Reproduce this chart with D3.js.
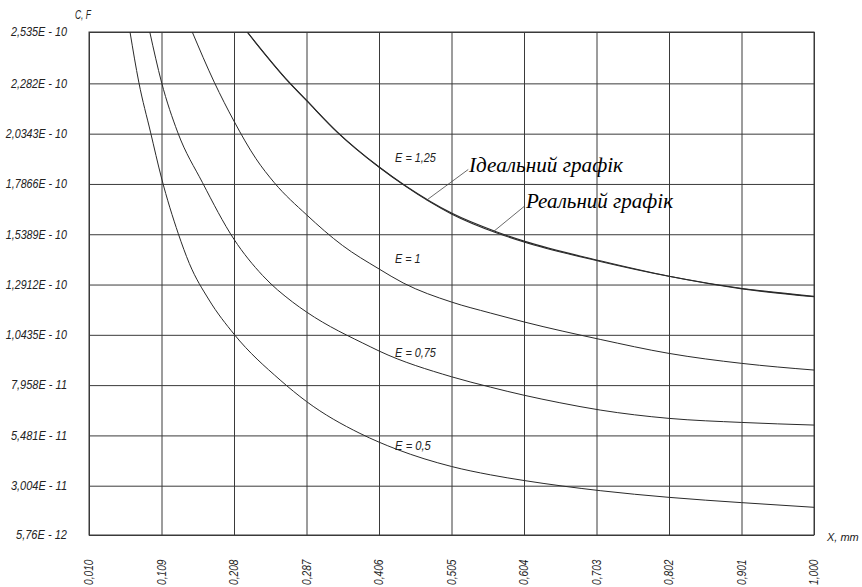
<!DOCTYPE html>
<html><head><meta charset="utf-8">
<script src="https://cdn.jsdelivr.net/npm/d3@7"></script>
<style>
body{margin:0;background:#fff;}
.cad{font-family:"Liberation Sans","Arimo",sans-serif;font-style:italic;fill:#222;}
.ann{font-family:"Liberation Serif","Times New Roman","DejaVu Serif",serif;font-style:italic;fill:#000;}
</style></head><body>
<svg id="chart" width="862" height="587"></svg>
<script>
// ---- data (capacitance in pF = 1e-12 F, X in mm) ----
const xTickValues = [0.010,0.109,0.208,0.307,0.406,0.505,0.604,0.703,0.802,0.901,1.000];
const xTickLabels = ["0,010","0,109","0,208","0,287","0,406","0,505","0,604","0,703","0,802","0,901","1,000"];
const yTickValues = [5.76,30.04,54.81,79.58,104.35,129.12,153.89,178.66,203.43,228.20,253.5];
const yTickLabels = ["5,76E - 12","3,004E - 11","5,481E - 11","7,958E - 11","1,0435E - 10","1,2912E - 10","1,5389E - 10","1,7866E - 10","2,0343E - 10","2,282E - 10","2,535E - 10"];

const xE05  = [0.066,0.078,0.094,0.109,0.132,0.147,0.174,0.208,0.271,0.307,0.380,0.406,0.430,0.505,0.558,0.604,0.708,0.802,0.901,1.000];
const cE05  = [253.5,228.8,204.2,181.6,154.1,139.5,121.5,104.7,82.1,71.5,55.8,51.5,48.0,39.5,35.4,32.6,27.6,24.3,21.7,19.4];

const xE075 = [0.093,0.109,0.131,0.165,0.208,0.247,0.288,0.307,0.394,0.406,0.505,0.558,0.604,0.653,0.708,0.802,0.901,1.000];
const cE075 = [253.5,228.8,204.2,179.3,151.4,133.6,120.5,115.6,98.5,96.4,83.7,78.6,74.6,70.9,67.3,63.2,61.2,59.9];

const xE1   = [0.151,0.181,0.208,0.238,0.263,0.307,0.356,0.406,0.439,0.505,0.558,0.604,0.708,0.802,0.901,1.000];
const cE1   = [253.5,228.8,209.6,191.1,179.3,163.5,148.4,136.8,129.9,120.5,115.1,110.7,102.1,95.2,90.3,87.0];

const xE125 = [0.226,0.283,0.307,0.349,0.406,0.442,0.505,0.567,0.604,0.708,0.802,0.902,1.000];
const cE125ideal = [253.5,228.8,219.8,204.2,187.0,177.8,164.3,155.0,150.5,140.8,133.2,127.0,123.1];
const cE125real  = [253.5,228.8,219.8,204.2,187.0,177.6,163.9,154.5,150.1,140.5,133.2,127.2,123.3];

const curveNames  = ["E = 0,5","E = 0,75","E = 1","E = 1,25"];

// ---- layout ----
const margin = {left:89, top:32, right:48, bottom:52};
const W = 862, H = 587;
const width = W - margin.left - margin.right;   // 725
const height = H - margin.top - margin.bottom;  // 503
const CH = 5.1; // narrow CAD-like character advance

const svg = d3.select("#chart");
const g = svg.append("g").attr("transform",`translate(${margin.left},${margin.top})`);

const x = d3.scaleLinear().domain([0.010,1.000]).range([0,width]);
const y = d3.scaleLinear().domain([5.76,253.5]).range([height,0]);

// grid via axes
const xAxis = d3.axisBottom(x).tickValues(xTickValues).tickSize(-height)
  .tickFormat((d,i)=>xTickLabels[i]);
const gx = g.append("g").attr("transform",`translate(0,${height})`).call(xAxis);
gx.select(".domain").remove();
gx.selectAll(".tick line").attr("stroke","#3a3a3a").attr("stroke-width",1);
gx.selectAll(".tick text").attr("class","cad").attr("font-size",12)
  .attr("text-anchor","start").attr("transform","rotate(-90)")
  .attr("x",-50).attr("y",0).attr("dy","0.32em")
  .attr("textLength",function(){return this.textContent.length*CH;})
  .attr("lengthAdjust","spacingAndGlyphs");

const yAxis = d3.axisLeft(y).tickValues(yTickValues).tickSize(-width).tickPadding(22)
  .tickFormat((d,i)=>yTickLabels[i]);
const gy = g.append("g").call(yAxis);
gy.select(".domain").remove();
gy.selectAll(".tick line").attr("stroke","#3a3a3a").attr("stroke-width",1);
gy.selectAll(".tick text").attr("class","cad").attr("font-size",12)
  .attr("textLength",function(){return this.textContent.length*CH;})
  .attr("lengthAdjust","spacingAndGlyphs");

g.append("rect").attr("x",0).attr("y",0).attr("width",width).attr("height",height)
  .attr("fill","none").attr("stroke","#3a3a3a").attr("stroke-width",1);

// clip
svg.append("defs").append("clipPath").attr("id","clip")
  .append("rect").attr("width",width).attr("height",height);

const line = d3.line().x(d=>x(d[0])).y(d=>y(d[1])).curve(d3.curveMonotoneX);
const series = [
  {xs:xE05, cs:cE05, w:1},
  {xs:xE075, cs:cE075, w:1},
  {xs:xE1, cs:cE1, w:1},
  {xs:xE125, cs:cE125ideal, w:1.1},
  {xs:xE125, cs:cE125real, w:1.1}
];
const cg = g.append("g").attr("clip-path","url(#clip)");
series.forEach(s=>{
  cg.append("path").datum(s.xs.map((v,i)=>[v,s.cs[i]]))
    .attr("d",line).attr("fill","none").attr("stroke","#2a2a2a").attr("stroke-width",s.w);
});

// curve labels
const labelPos = [[0.428,47.6],[0.428,93.4],[0.428,139.7],[0.428,189.4]];
curveNames.forEach((t,i)=>{
  g.append("text").attr("class","cad").attr("font-size",12)
    .attr("x",x(labelPos[i][0])).attr("y",y(labelPos[i][1]))
    .attr("textLength",t.length*CH).attr("lengthAdjust","spacingAndGlyphs").text(t);
});

// annotations with leader lines
function leader(x0,c0,x1,c1){
  g.append("line").attr("x1",x(x0)).attr("y1",y(c0)).attr("x2",x(x1)).attr("y2",y(c1))
    .attr("stroke","#444").attr("stroke-width",0.8);
}
leader(0.4711,170.7,0.5279,185.8);
g.append("text").attr("class","ann").attr("font-size",20)
  .attr("x",x(0.5289)).attr("y",y(184.5))
  .attr("textLength",154).attr("lengthAdjust","spacingAndGlyphs").text("Ідеальний графік");
leader(0.5620,155.1,0.6053,167.9);
g.append("text").attr("class","ann").attr("font-size",20)
  .attr("x",x(0.6067)).attr("y",y(166.6))
  .attr("textLength",147).attr("lengthAdjust","spacingAndGlyphs").text("Реальний графік");

// axis titles
svg.append("text").attr("class","cad").attr("font-size",12).attr("x",75).attr("y",19)
  .attr("textLength",16).attr("lengthAdjust","spacingAndGlyphs").text("C, F");
svg.append("text").attr("class","cad").attr("font-size",11).attr("x",827).attr("y",541)
  .text("X, mm");
</script></body></html>
